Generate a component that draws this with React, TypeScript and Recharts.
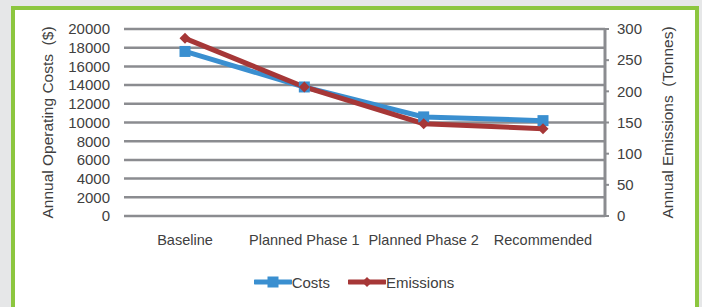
import { LineChart, Line, XAxis, YAxis, CartesianGrid, Legend, Label } from 'recharts';

const phases = ['Baseline', 'Planned Phase 1', 'Planned Phase 2', 'Recommended'];
const costs = [17600, 13800, 10600, 10200];
const emissions = [285, 207, 148, 140];
const costTicks = [0, 2000, 4000, 6000, 8000, 10000, 12000, 14000, 16000, 18000, 20000];
const emissionTicks = [0, 50, 100, 150, 200, 250, 300];

const data = phases.map((phase, i) => ({ phase, costs: costs[i], emissions: emissions[i] }));

const BLUE = '#3a8fd0';
const RED = '#a63737';
const GRID = '#8b8c90';
const TEXT = '#404040';
const FONT = '"Liberation Sans", Arial, Helvetica, sans-serif';

const SquareDot = (props: any) => {
  const { cx, cy, index } = props;
  if (cx == null || cy == null) return null;
  return <rect key={`sq-${index}`} x={cx - 5.5} y={cy - 5.5} width={11} height={11} fill={BLUE} />;
};

const DiamondDot = (props: any) => {
  const { cx, cy, index } = props;
  if (cx == null || cy == null) return null;
  const r = 5.5;
  return (
    <polygon
      key={`dm-${index}`}
      points={`${cx},${cy - r} ${cx + r},${cy} ${cx},${cy + r} ${cx - r},${cy}`}
      fill={RED}
    />
  );
};

const LegendIcon = ({ color, shape }: { color: string; shape: 'square' | 'diamond' }) => (
  <svg width={38} height={14} style={{ display: 'block' }}>
    <line x1={1} y1={7} x2={37} y2={7} stroke={color} strokeWidth={5} strokeLinecap="round" />
    {shape === 'square' ? (
      <rect x={13.5} y={1.5} width={11} height={11} fill={color} />
    ) : (
      <polygon points="19,2 24,7 19,12 14,7" fill={color} />
    )}
  </svg>
);

const renderLegend = () => (
  <div
    style={{
      display: 'flex',
      justifyContent: 'center',
      alignItems: 'center',
      height: 50,
      paddingLeft: 6,
      fontFamily: FONT,
      fontSize: 15,
      color: TEXT,
    }}
  >
    <div style={{ display: 'flex', alignItems: 'center', marginRight: 18 }}>
      <LegendIcon color={BLUE} shape="square" />
      <span>Costs</span>
    </div>
    <div style={{ display: 'flex', alignItems: 'center' }}>
      <LegendIcon color={RED} shape="diamond" />
      <span>Emissions</span>
    </div>
  </div>
);

const axisTitle = (text: string, side: 'left' | 'right') => (props: any) => {
  const { viewBox } = props;
  const cy = viewBox.y + viewBox.height / 2;
  const cx = side === 'left' ? viewBox.x + 47 : viewBox.x + 62;
  return (
    <text
      x={cx}
      y={cy}
      transform={`rotate(-90 ${cx} ${cy})`}
      textAnchor="middle"
      dominantBaseline="central"
      fill={TEXT}
      fontSize={15.5}
      fontFamily={FONT}
      style={{ whiteSpace: 'pre' }}
    >
      {text}
    </text>
  );
};

export default function App() {
  return (
    <div
      style={{
        position: 'fixed',
        left: 0,
        top: 0,
        width: 702,
        height: 307,
        background: '#e6e7e8',
        overflow: 'hidden',
      }}
    >
      <div
        style={{
          position: 'absolute',
          left: 11,
          top: 6,
          width: 688,
          height: 330,
          boxSizing: 'border-box',
          border: '4px solid #8cc63f',
          background: '#ffffff',
        }}
      />
      <div style={{ position: 'absolute', left: 0, top: 0 }}>
        <LineChart width={702} height={307} data={data} margin={{ top: 29, right: 0, bottom: 0, left: 0 }}>
          <CartesianGrid yAxisId="cost" vertical={false} stroke={GRID} strokeWidth={2.5} />
          <XAxis
            dataKey="phase"
            axisLine={false}
            tickLine={false}
            height={41}
            tickMargin={13}
            padding={{ left: 61, right: 62 }}
            interval={0}
            tick={{ fill: TEXT, fontSize: 14.5, fontFamily: FONT }}
          />
          <YAxis
            yAxisId="cost"
            orientation="left"
            width={124}
            domain={[0, 20000]}
            ticks={costTicks}
            interval={0}
            axisLine={false}
            tickLine={false}
            tickMargin={8}
            tick={{ fill: TEXT, fontSize: 15, fontFamily: FONT }}
          >
            <Label content={axisTitle('Annual Operating Costs  ($)', 'left')} />
          </YAxis>
          <YAxis
            yAxisId="emissions"
            orientation="right"
            width={97}
            domain={[0, 300]}
            ticks={emissionTicks}
            interval={0}
            axisLine={{ stroke: GRID, strokeWidth: 3 }}
            tickLine={{ stroke: GRID, strokeWidth: 2 }}
            tickSize={4}
            tickMargin={8}
            tick={{ fill: TEXT, fontSize: 15, fontFamily: FONT }}
          >
            <Label content={axisTitle('Annual Emissions  (Tonnes)', 'right')} />
          </YAxis>
          <Line
            yAxisId="cost"
            dataKey="costs"
            name="Costs"
            type="linear"
            stroke={BLUE}
            strokeWidth={5}
            dot={SquareDot}
            activeDot={false}
            isAnimationActive={false}
          />
          <Line
            yAxisId="emissions"
            dataKey="emissions"
            name="Emissions"
            type="linear"
            stroke={RED}
            strokeWidth={5}
            dot={DiamondDot}
            activeDot={false}
            isAnimationActive={false}
          />
          <Legend verticalAlign="bottom" height={50} content={renderLegend} />
        </LineChart>
      </div>
    </div>
  );
}
